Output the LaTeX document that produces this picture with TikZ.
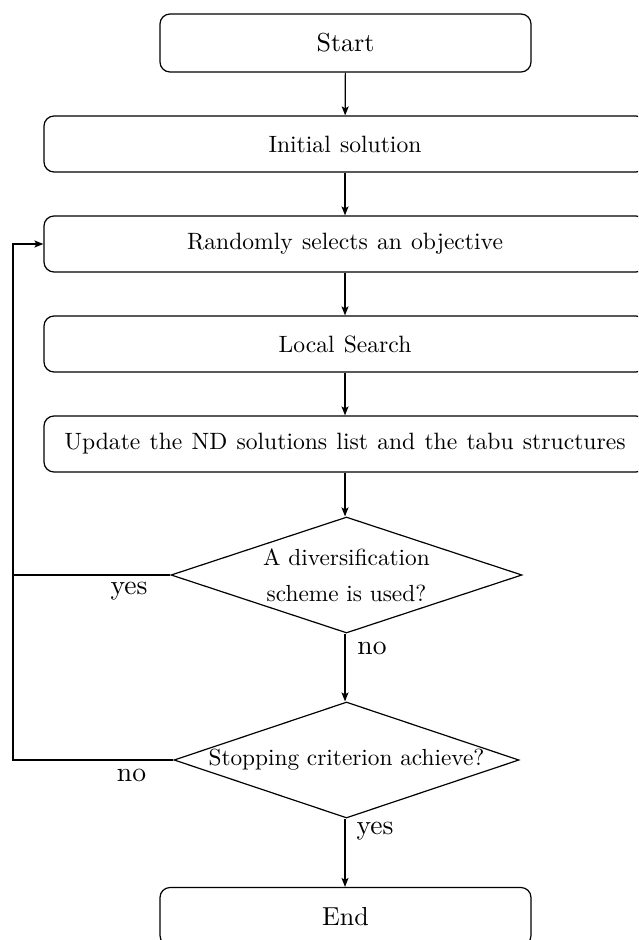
\documentclass[tikz,border=0pt]{standalone}
\usetikzlibrary{shapes.geometric,arrows.meta}
% text faces: 10pt design of Latin Modern at the sizes used in the chart
\font\boxfont="[lmroman10-regular]:+tlig;" at 11.8pt
\font\diafont="[lmroman10-regular]:+tlig;" at 11.65pt
\font\termfont="[lmroman10-regular]:+tlig;" at 13pt
\font\labelfont="[lmroman10-regular]:+tlig;" at 13.8pt
\begin{document}
\begin{tikzpicture}[x=0.5pt,y=-0.5pt,
  box/.style={draw, rounded corners=5pt, minimum width=301pt, minimum height=28pt,
    inner sep=0pt, line width=0.6pt, font={\boxfont\spaceskip=4.6pt\relax}},
  term/.style={box, minimum width=185.5pt, minimum height=29pt, font=\termfont},
  decision/.style={draw, diamond, shape aspect=3, inner sep=0pt, line width=0.6pt,
    minimum height=58pt, align=center, font={\diafont\baselineskip=18pt}},
  lbl/.style={inner sep=0pt, font=\labelfont},
  flow/.style={-{Stealth[length=4.5pt,width=3.5pt,inset=1pt]}, line width=0.6pt}]
  \useasboundingbox (0,0) rectangle (638,940);
  \clip (0,0) rectangle (638,940);

  % main column
  \node[term] (start) at (345.5,43) {Start};
  \node[box] (init) at (345,144) {Initial solution};
  \node[box] (rand) at (345,244) {Randomly selects an objective};
  \node[box] (ls) at (345,344) {Local Search};
  \node[box] (upd) at (345,444) {Update the ND solutions list and the tabu structures};
  \node[decision, minimum width=175.5pt] (div) at (346.5,575)
    {A diversification\\ scheme is used?};
  \node[decision, minimum width=172.5pt] (stop) at (346.5,760)
    {Stopping criterion achieve?};
  \node[term] (end) at (345.5,916.5) {End};

  % branch labels
  \node[lbl] (yesA) at (129,591) {yes};
  \node[lbl] (noA) at (372,648) {no};
  \node[lbl] (noB) at (131.5,775) {no};
  \node[lbl] (yesB) at (375,831) {yes};

  % left return path
  \coordinate (lx) at (13,0);

  \draw[flow] (start) -- (init);
  \draw[flow] (init) -- (rand);
  \draw[flow] (rand) -- (ls);
  \draw[flow] (ls) -- (upd);
  \draw[flow] (upd.south) -- (upd.south |- div.north);
  \draw[flow] (upd.south |- div.south) -- (upd.south |- stop.north);
  \draw[flow] (upd.south |- stop.south) -- (upd.south |- end.north);
  \draw[line width=0.6pt] (div.west) -- (div.west -| lx);
  \draw[flow] (stop.west) -- (stop.west -| lx) |- (rand.west);
\end{tikzpicture}
\end{document}
